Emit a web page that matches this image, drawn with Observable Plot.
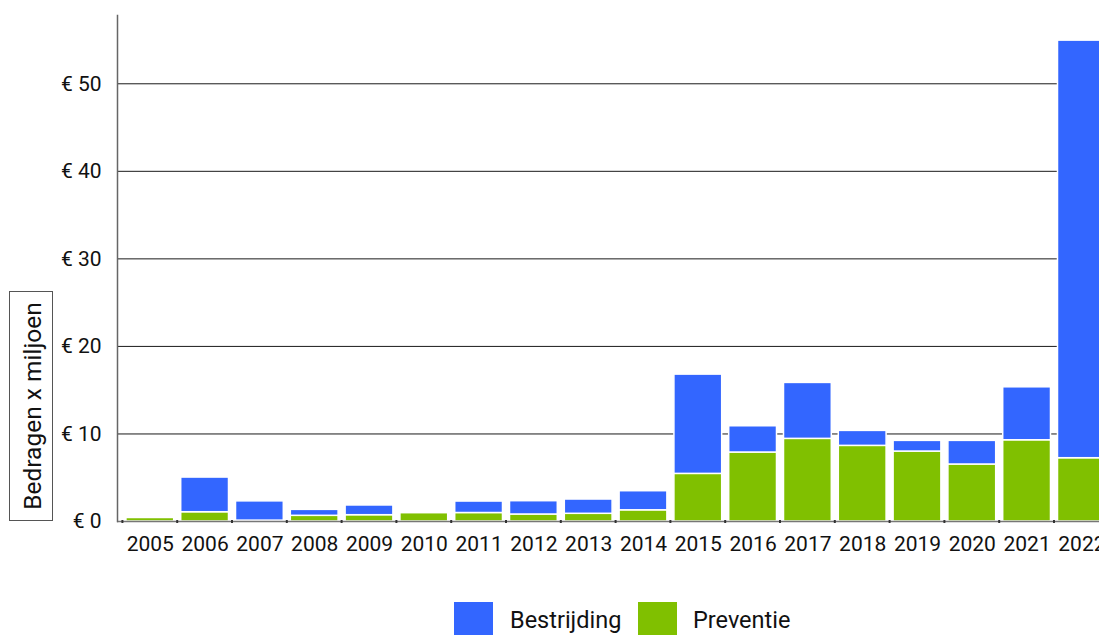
<!DOCTYPE html>
<html>
<head>
<meta charset="utf-8">
<script src="https://cdn.jsdelivr.net/npm/d3@7"></script>
<script src="https://cdn.jsdelivr.net/npm/@observablehq/plot@0.6"></script>
<style>
  html, body { margin: 0; padding: 0; background: #fff; overflow: hidden; }
  #wrap { position: relative; width: 1099px; height: 637px; overflow: hidden; font-family: Roboto, sans-serif; }
  .sw { position: absolute; top: 602px; width: 39px; height: 33px; }
  .lab { position: absolute; top: 604px; height: 33px; line-height: 33px; font-size: 23.5px; color: #111; white-space: nowrap; }
</style>
</head>
<body>
<div id="wrap">
  <div id="chart"></div>
</div>
<script>
const years = ["2005","2006","2007","2008","2009","2010","2011","2012","2013","2014","2015","2016","2017","2018","2019","2020","2021","2022"];
const preventie   = [0.40, 1.06, 0.10, 0.65, 0.72, 0.95, 0.97, 0.80, 0.88, 1.28, 5.44, 7.88, 9.44, 8.64, 7.99, 6.51, 9.28, 7.23];
const bestrijding = [0.00, 3.96, 2.20, 0.68, 1.11, 0.00, 1.31, 1.52, 1.63, 2.18, 11.34, 3.00, 6.39, 1.71, 1.22, 2.70, 6.05, 47.70];
const seriesNames = ["Preventie", "Bestrijding"];
const seriesColors = ["#80c000", "#3366ff"];
const legendOrder = ["Bestrijding", "Preventie"];
const yTicks = [0, 10, 20, 30, 40, 50];
const gridTicks = [10, 20, 30, 40, 50];
const yLabel = "Bedragen x miljoen";

const rows = [];
years.forEach((y, i) => {
  rows.push({year: y, type: "Preventie", value: preventie[i]});
  rows.push({year: y, type: "Bestrijding", value: bestrijding[i]});
});

const W = 1099, H = 590;
const plot = Plot.plot({
  width: W,
  height: H,
  marginLeft: 117,
  marginRight: 0,
  marginTop: 15,
  marginBottom: H - 521,
  style: {fontFamily: "Roboto, sans-serif", fontSize: "21px", color: "#111", overflow: "hidden"},
  x: {domain: years, range: [118.9, 1112.3], padding: 0.128, round: false, label: null},
  y: {domain: [0, 57.8], range: [521, 15], label: null},
  color: {domain: seriesNames, range: seriesColors},
  marks: [
    Plot.ruleY(gridTicks, {stroke: "#1a1a1a", strokeWidth: 1}),
    Plot.barY(rows, Plot.stackY({
      x: "year", y: "value", fill: "type", order: seriesNames,
      stroke: "white", strokeWidth: 1.5
    })),
    Plot.axisY({ticks: yTicks, tickSize: 0, tickPadding: 16, tickFormat: d => "€ " + d, label: null, fill: "#111", fontSize: 21}),
    Plot.axisX({tickSize: 0, tickPadding: 15, label: null, fill: "#111", fontSize: 21}),
    Plot.ruleY([0], {stroke: "#777", strokeWidth: 1.5}),
    Plot.frame({anchor: "left", stroke: "#666", strokeWidth: 1.5})
  ]
});
document.getElementById("chart").appendChild(plot);

const svg = d3.select(plot);
// small tick marks at band boundaries on the baseline
const xs = plot.scale("x");
const step = xs.step;
const yBase = plot.scale("y").apply(0);
years.forEach(y => {
  const xb = xs.apply(y) - (step - xs.bandwidth) / 2;
  svg.append("line").attr("x1", xb).attr("x2", xb).attr("y1", yBase - 1).attr("y2", yBase + 2)
    .attr("stroke", "#333").attr("stroke-width", 2);
});

// y-axis title in a box
const g = svg.append("g");
g.append("rect").attr("x", 9.5).attr("y", 291.5).attr("width", 43).attr("height", 229)
  .attr("fill", "white").attr("stroke", "#555").attr("stroke-width", 1);
g.append("text").attr("transform", "translate(32,406) rotate(-90)")
  .attr("text-anchor", "middle").attr("dominant-baseline", "central")
  .attr("font-family", "Roboto, sans-serif").attr("font-size", 24.5).attr("fill", "#111")
  .text(yLabel);

// legend
const wrap = document.getElementById("wrap");
const swX = [454, 638], labX = [510, 693];
legendOrder.forEach((name, i) => {
  const sw = document.createElement("div");
  sw.className = "sw";
  sw.style.left = swX[i] + "px";
  sw.style.background = seriesColors[seriesNames.indexOf(name)];
  const lab = document.createElement("div");
  lab.className = "lab";
  lab.style.left = labX[i] + "px";
  lab.textContent = name;
  wrap.appendChild(sw);
  wrap.appendChild(lab);
});
</script>
</body>
</html>
